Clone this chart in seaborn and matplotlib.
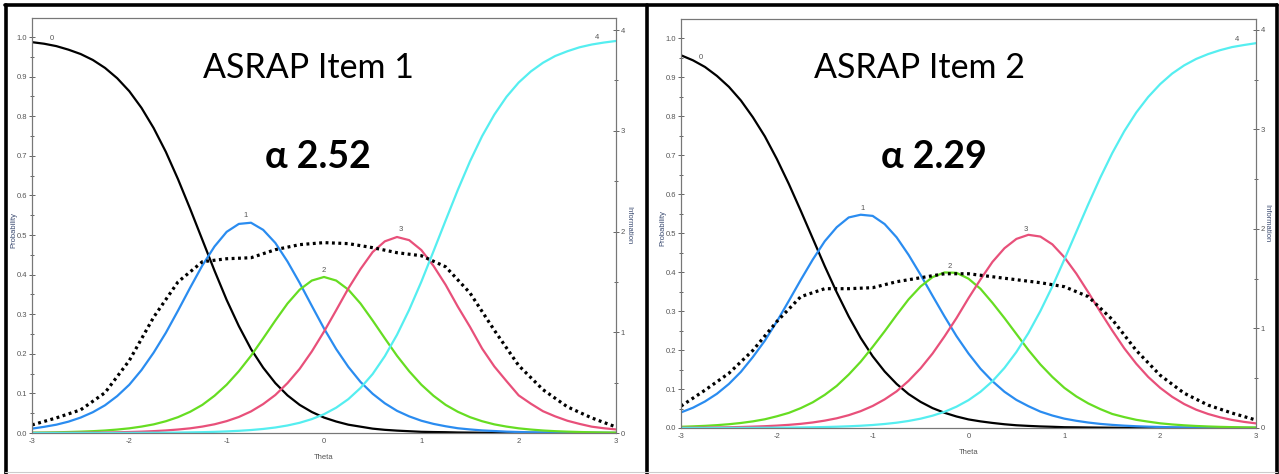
import matplotlib
matplotlib.use("Agg")
import matplotlib.pyplot as plt
from matplotlib.lines import Line2D
from matplotlib.ticker import MultipleLocator, FormatStrFormatter
import seaborn as sns

sns.set_style("white")
plt.rcParams['font.family'] = ['Liberation Sans', 'DejaVu Sans']

theta = [-3.0, -2.875, -2.75, -2.625, -2.5, -2.375, -2.25, -2.125, -2.0, -1.875, -1.75, -1.625,
         -1.5, -1.375, -1.25, -1.125, -1.0, -0.875, -0.75, -0.625, -0.5, -0.375, -0.25, -0.125,
         0.0, 0.125, 0.25, 0.375, 0.5, 0.625, 0.75, 0.875, 1.0, 1.125, 1.25, 1.375,
         1.5, 1.625, 1.75, 1.875, 2.0, 2.125, 2.25, 2.375, 2.5, 2.625, 2.75, 2.875, 3.0]
theta_info = [-3.0, -2.75, -2.5, -2.25, -2.0, -1.75, -1.5, -1.25, -1.0, -0.75, -0.5, -0.25,
              0.0, 0.25, 0.5, 0.75, 1.0, 1.25, 1.5, 1.75, 2.0, 2.25, 2.5, 2.75, 3.0]

# ASRAP item 1
item1_cat0 = [0.987, 0.983, 0.977, 0.968, 0.957, 0.942, 0.922, 0.896, 0.863, 0.821, 0.770, 0.710,
              0.641, 0.566, 0.488, 0.410, 0.336, 0.270, 0.212, 0.165, 0.126, 0.095, 0.071, 0.053,
              0.039, 0.029, 0.021, 0.016, 0.011, 0.008, 0.006, 0.0045, 0.003, 0.0024, 0.002, 0.0013,
              0.001, 0.0007, 0.0005, 0.0004, 0.0003, 0.0002, 0.0002, 0.0001, 0.0001, 0.0001, 0.0001, 0.0, 0.0]
item1_cat1 = [0.011, 0.0156, 0.021, 0.0287, 0.039, 0.0525, 0.070, 0.0932, 0.122, 0.159, 0.203, 0.253,
              0.309, 0.367, 0.423, 0.471, 0.508, 0.528, 0.531, 0.513, 0.480, 0.433, 0.379, 0.321,
              0.264, 0.212, 0.167, 0.129, 0.099, 0.075, 0.056, 0.042, 0.031, 0.023, 0.017, 0.012,
              0.009, 0.0065, 0.005, 0.0034, 0.0025, 0.0018, 0.0014, 0.001, 0.0008, 0.0005, 0.0004, 0.0003, 0.0002]
item1_cat2 = [0.001, 0.0013, 0.0018, 0.0025, 0.0034, 0.0046, 0.0063, 0.0087, 0.0118, 0.0162, 0.0218, 0.0297,
              0.040, 0.0536, 0.071, 0.094, 0.122, 0.156, 0.195, 0.239, 0.284, 0.327, 0.362, 0.385,
              0.394, 0.385, 0.362, 0.327, 0.284, 0.239, 0.195, 0.156, 0.122, 0.094, 0.071, 0.0536,
              0.040, 0.0297, 0.0218, 0.0162, 0.0118, 0.0087, 0.0063, 0.0046, 0.0034, 0.0025, 0.0018, 0.0013, 0.001]
item1_cat3 = [0.0002, 0.0003, 0.0003, 0.0005, 0.0007, 0.001, 0.0013, 0.0018, 0.0025, 0.0034, 0.0047, 0.0064,
              0.0088, 0.0118, 0.0162, 0.022, 0.030, 0.0405, 0.0545, 0.073, 0.096, 0.126, 0.162, 0.206,
              0.256, 0.310, 0.365, 0.414, 0.457, 0.484, 0.495, 0.487, 0.462, 0.422, 0.374, 0.319,
              0.268, 0.213, 0.168, 0.131, 0.095, 0.074, 0.055, 0.042, 0.031, 0.023, 0.016, 0.012, 0.009]
item1_cat4 = [0.0, 0.0, 0.0, 0.0001, 0.0001, 0.0001, 0.0002, 0.0002, 0.0003, 0.0004, 0.0006, 0.0008,
              0.0011, 0.0016, 0.0021, 0.0029, 0.004, 0.0055, 0.0075, 0.0102, 0.0139, 0.019, 0.0258, 0.0351,
              0.0474, 0.0639, 0.0855, 0.1137, 0.149, 0.194, 0.248, 0.311, 0.382, 0.459, 0.537, 0.614,
              0.686, 0.750, 0.804, 0.849, 0.885, 0.913, 0.935, 0.952, 0.964, 0.974, 0.981, 0.986, 0.990]
item1_info = [0.08, 0.15, 0.23, 0.40, 0.72, 1.15, 1.50, 1.70, 1.73, 1.74, 1.82, 1.87,
              1.89, 1.88, 1.84, 1.79, 1.76, 1.65, 1.39, 1.02, 0.67, 0.43, 0.26, 0.15, 0.06]

# ASRAP item 2
item2_cat0 = [0.956, 0.943, 0.926, 0.903, 0.875, 0.840, 0.797, 0.748, 0.690, 0.626, 0.557, 0.486,
              0.415, 0.348, 0.286, 0.231, 0.184, 0.145, 0.113, 0.087, 0.067, 0.051, 0.039, 0.0295,
              0.022, 0.017, 0.013, 0.0096, 0.007, 0.0054, 0.004, 0.0031, 0.002, 0.0017, 0.0013, 0.001,
              0.0007, 0.0005, 0.0004, 0.0003, 0.0002, 0.0002, 0.0001, 0.0001, 0.0001, 0.0, 0.0, 0.0, 0.0]
item2_cat1 = [0.040, 0.052, 0.068, 0.0878, 0.113, 0.144, 0.182, 0.224, 0.273, 0.326, 0.380, 0.432,
              0.479, 0.515, 0.540, 0.547, 0.544, 0.523, 0.489, 0.444, 0.393, 0.339, 0.286, 0.2355,
              0.191, 0.152, 0.120, 0.093, 0.072, 0.056, 0.042, 0.032, 0.024, 0.0185, 0.014, 0.0105,
              0.008, 0.006, 0.0045, 0.0034, 0.0026, 0.0019, 0.0015, 0.0011, 0.0008, 0.0006, 0.0005, 0.0004, 0.0003]
item2_cat2 = [0.0031, 0.0042, 0.0055, 0.0073, 0.0097, 0.0129, 0.017, 0.0224, 0.030, 0.0388, 0.051, 0.0659,
              0.085, 0.108, 0.137, 0.170, 0.208, 0.248, 0.290, 0.330, 0.363, 0.387, 0.399, 0.398,
              0.383, 0.357, 0.321, 0.282, 0.241, 0.200, 0.163, 0.131, 0.103, 0.081, 0.063, 0.0485,
              0.036, 0.028, 0.021, 0.0163, 0.012, 0.0091, 0.0069, 0.0052, 0.0039, 0.0029, 0.0022, 0.0016, 0.0012]
item2_cat3 = [0.0006, 0.0008, 0.0011, 0.0015, 0.0019, 0.0026, 0.0035, 0.0046, 0.0061, 0.0081, 0.0107, 0.0142,
              0.0189, 0.0249, 0.0329, 0.0432, 0.0565, 0.0734, 0.094, 0.121, 0.153, 0.191, 0.235, 0.282,
              0.333, 0.381, 0.426, 0.461, 0.485, 0.4955, 0.491, 0.471, 0.438, 0.396, 0.348, 0.298,
              0.250, 0.2045, 0.165, 0.131, 0.103, 0.080, 0.0615, 0.047, 0.036, 0.0274, 0.0207, 0.0157, 0.0118]
item2_cat4 = [0.0001, 0.0001, 0.0001, 0.0002, 0.0003, 0.0003, 0.0004, 0.0006, 0.0008, 0.0011, 0.0014, 0.0019,
              0.0025, 0.0033, 0.0044, 0.0058, 0.0077, 0.0103, 0.0136, 0.0181, 0.0239, 0.0316, 0.0415, 0.0547,
              0.0714, 0.0929, 0.120, 0.154, 0.195, 0.2435, 0.300, 0.363, 0.432, 0.503, 0.574, 0.642,
              0.705, 0.761, 0.809, 0.849, 0.882, 0.909, 0.930, 0.9465, 0.959, 0.969, 0.977, 0.9823, 0.987]
item2_info = [0.22, 0.38, 0.55, 0.78, 1.07, 1.32, 1.40, 1.40, 1.41, 1.47, 1.51, 1.55,
              1.55, 1.52, 1.49, 1.46, 1.42, 1.32, 1.09, 0.78, 0.53, 0.35, 0.23, 0.15, 0.08]

cat_names = ['0', '1', '2', '3', '4']
cat_colors = ['#000000', '#2a8cf0', '#66dd22', '#e8507a', '#55eef0']

# where the little category numbers sit (theta, probability)
item1_lab_x = [-2.8, -0.81, 0.0, 0.79, 2.8]
item1_lab_y = [0.995, 0.548, 0.41, 0.513, 1.0]
item2_lab_x = [-2.79, -1.10, -0.20, 0.60, 2.8]
item2_lab_y = [0.949, 0.564, 0.413, 0.508, 0.997]

titles = ['ASRAP Item 1', 'ASRAP Item 2']
alphas = ['\u03b1 2.52', '\u03b1 2.29']

W, H = 1279, 474
fig = plt.figure(figsize=(W / 100, H / 100), dpi=100)


def px(x0, y0, x1, y1):
    # pixel box (left, top, right, bottom) -> figure rect
    return [x0 / W, 1 - y1 / H, (x1 - x0) / W, (y1 - y0) / H]


def style_ticks(a):
    a.tick_params(which='both', direction='inout', colors='#666666', labelsize=5.5,
                  labelcolor='#555555', width=0.7, pad=1.5)
    a.tick_params(which='major', length=4)
    a.tick_params(which='minor', length=3)
    for s in a.spines.values():
        s.set_color('#777777')
        s.set_linewidth(0.8)


def draw_item(rect, cats, info, lab_x, lab_y, ptop, itop, info_x):
    ax = fig.add_axes(rect)
    for vals, col in zip(cats, cat_colors):
        sns.lineplot(x=theta, y=vals, ax=ax, color=col, linewidth=1.6)
    ax.set_xlim(-3, 3)
    ax.set_ylim(0, ptop)
    ax.xaxis.set_major_locator(MultipleLocator(1))
    ax.xaxis.set_minor_locator(MultipleLocator(0.5))
    ax.yaxis.set_major_locator(MultipleLocator(0.1))
    ax.yaxis.set_minor_locator(MultipleLocator(0.05))
    ax.yaxis.set_major_formatter(FormatStrFormatter('%.1f'))
    ax.xaxis.set_major_formatter(FormatStrFormatter('%d'))
    style_ticks(ax)
    ax.set_xlabel('')
    ax.set_ylabel('')
    ax.text(0.5, -0.06, 'Theta', transform=ax.transAxes, ha='center', va='center',
            fontsize=5.5, color='#555555')
    ax.text(-0.031, 0.49, 'Probability', transform=ax.transAxes, ha='center', va='center',
            rotation=90, fontsize=5.5, color='#3a4a70')
    for name, x, y in zip(cat_names, lab_x, lab_y):
        ax.text(x, y, name, ha='center', va='center', fontsize=5.5, color='#555555')

    ax2 = ax.twinx()
    sns.lineplot(x=theta_info, y=info, ax=ax2, color='black', linewidth=2.3,
                 linestyle=(0, (0.9, 1.1)))
    ax2.set_ylim(0, itop)
    ax2.set_xlim(-3, 3)
    ax2.yaxis.set_major_locator(MultipleLocator(1))
    ax2.yaxis.set_minor_locator(MultipleLocator(0.5))
    ax2.yaxis.set_major_formatter(FormatStrFormatter('%d'))
    style_ticks(ax2)
    ax2.set_ylabel('')
    ax2.text(info_x, 0.50, 'Information', transform=ax2.transAxes, ha='center', va='center',
             rotation=270, fontsize=5.5, color='#3a4a70')
    return ax


draw_item(px(32, 18, 616, 433),
          [item1_cat0, item1_cat1, item1_cat2, item1_cat3, item1_cat4], item1_info,
          item1_lab_x, item1_lab_y, 1.048, 4.12, 1.022)
draw_item(px(681, 19, 1256, 428),
          [item2_cat0, item2_cat1, item2_cat2, item2_cat3, item2_cat4], item2_info,
          item2_lab_x, item2_lab_y, 1.049, 4.11, 1.019)

# big titles
for cx, t in zip([308, 919], titles):
    fig.text(cx / W, 1 - 68 / H, t, ha='center', va='center', fontsize=24.5,
             family=['Lato', 'Open Sans', 'DejaVu Sans'], color='black')
for cx, t in zip([318, 934], alphas):
    fig.text(cx / W, 1 - 157 / H, t, ha='center', va='center', fontsize=27, fontweight='bold',
             family=['Lato', 'Open Sans', 'DejaVu Sans'], color='black')


# panel frames
def fline(xs, ys, color='black', lw=2.6):
    fig.add_artist(Line2D([x / W for x in xs], [1 - y / H for y in ys],
                          color=color, linewidth=lw, transform=fig.transFigure))


fline([5, 1277], [5, 5])
fline([6, 6], [5, 474])
fline([647, 647], [5, 474])
fline([1276.5, 1276.5], [5, 474])
fline([5, 1277], [472, 472], color='#cccccc', lw=0.8)

fig.savefig('out.png', dpi=100)
